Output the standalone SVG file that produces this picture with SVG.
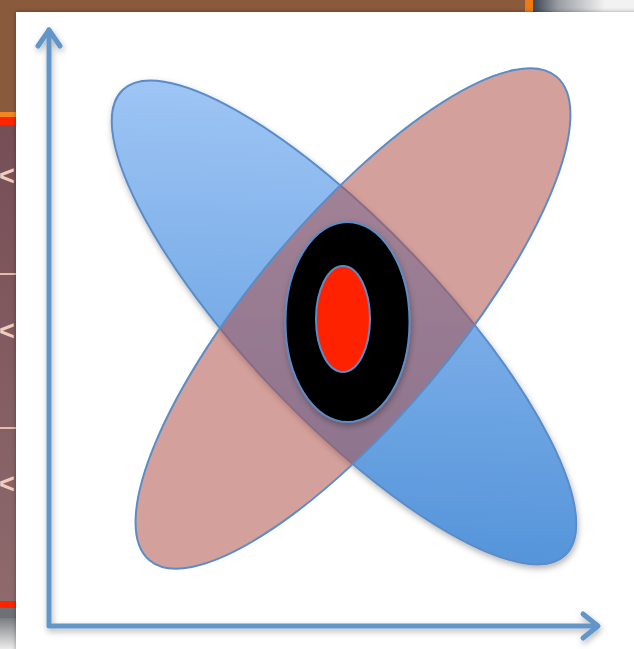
<svg xmlns="http://www.w3.org/2000/svg" width="634" height="649" viewBox="0 0 634 649">
  <defs>
    <linearGradient id="gTopRight" x1="533" y1="0" x2="605" y2="0" gradientUnits="userSpaceOnUse">
      <stop offset="0" stop-color="#3c4450"/>
      <stop offset="0.35" stop-color="#9a9ea4"/>
      <stop offset="1" stop-color="#f2f2f2"/>
    </linearGradient>
    <linearGradient id="gBottomLeft" x1="0" y1="618" x2="0" y2="649" gradientUnits="userSpaceOnUse">
      <stop offset="0" stop-color="#7a7c80"/>
      <stop offset="1" stop-color="#ececec"/>
    </linearGradient>
    <linearGradient id="gMauve" x1="0" y1="124" x2="0" y2="601" gradientUnits="userSpaceOnUse">
      <stop offset="0" stop-color="#764e56"/>
      <stop offset="1" stop-color="#8e6a6c"/>
    </linearGradient>
    <linearGradient id="gBlue" x1="140" y1="110" x2="560" y2="540" gradientUnits="userSpaceOnUse">
      <stop offset="0" stop-color="#a7cbf8"/>
      <stop offset="1" stop-color="#4a8dd6"/>
    </linearGradient>
    <filter id="shadow" x="-20%" y="-20%" width="140%" height="140%">
      <feDropShadow dx="1" dy="3" stdDeviation="3" flood-color="#000" flood-opacity="0.3"/>
    </filter>
    <filter id="panelShadow" x="-5%" y="-5%" width="110%" height="110%">
      <feDropShadow dx="0" dy="0" stdDeviation="2" flood-color="#000" flood-opacity="0.35"/>
    </filter>
  </defs>
  <style>
    .axis { fill: none; stroke: #6296c9; stroke-width: 5; stroke-linecap: round; stroke-linejoin: round; }
    .outline { stroke: #5a8dc8; stroke-width: 2; }
    .bgtext { font-family: "Liberation Sans", Arial, sans-serif; font-size: 27px; font-weight: bold; fill: #f2cbbb; }
  </style>

  <!-- background slide -->
  <g id="background">
    <rect x="0" y="0" width="634" height="649" fill="#8a5a3c"/>
    <rect x="525" y="0" width="8" height="20" fill="#f07a12"/>
    <rect x="533" y="0" width="101" height="20" fill="url(#gTopRight)"/>
    <rect x="0" y="112" width="20" height="5" fill="#f2851c"/>
    <rect x="0" y="117" width="20" height="8" fill="#ff2400"/>
    <rect x="0" y="125" width="20" height="476" fill="url(#gMauve)"/>
    <rect x="0" y="273" width="20" height="2" fill="#e6b9aa"/>
    <rect x="0" y="427" width="20" height="2" fill="#e6b9aa"/>
    <text class="bgtext" x="-1" y="185">&lt;</text>
    <text class="bgtext" x="-1" y="340">&lt;</text>
    <text class="bgtext" x="-1" y="493">&lt;</text>
    <rect x="0" y="601" width="20" height="7" fill="#ff2400"/>
    <rect x="0" y="608" width="20" height="10" fill="#6e7078"/>
    <rect x="0" y="618" width="20" height="31" fill="url(#gBottomLeft)"/>
  </g>

  <!-- white panel -->
  <rect id="panel" x="16" y="12" width="640" height="660" fill="#ffffff" filter="url(#panelShadow)"/>

  <!-- axes -->
  <g id="connectors" filter="url(#shadow)">
    <polyline class="axis" points="49,30 49,626 597,626"/>
    <polyline class="axis" points="38,46 49,30 60,46"/>
    <polyline class="axis" points="583,614 598,626 583,638"/>
  </g>

  <!-- blue ellipse -->
  <g id="blue-ellipse" filter="url(#shadow)">
    <ellipse class="outline" cx="344" cy="322.5" rx="321" ry="97" fill="url(#gBlue)" transform="rotate(46.4 344 322.5)"/>
  </g>

  <!-- red ellipse (translucent) -->
  <g id="red-ellipse">
    <ellipse class="outline" cx="353" cy="318.5" rx="316" ry="100" fill="#b0524a" fill-opacity="0.55" transform="rotate(-49.9 353 318.5)"/>
  </g>

  <!-- black ring -->
  <g id="black-ellipse" filter="url(#shadow)">
    <ellipse class="outline" cx="347.5" cy="322" rx="62" ry="100" fill="#000000"/>
  </g>

  <!-- red center -->
  <g id="red-center">
    <ellipse class="outline" cx="343" cy="319" rx="27" ry="53" fill="#ff2200"/>
  </g>
</svg>
